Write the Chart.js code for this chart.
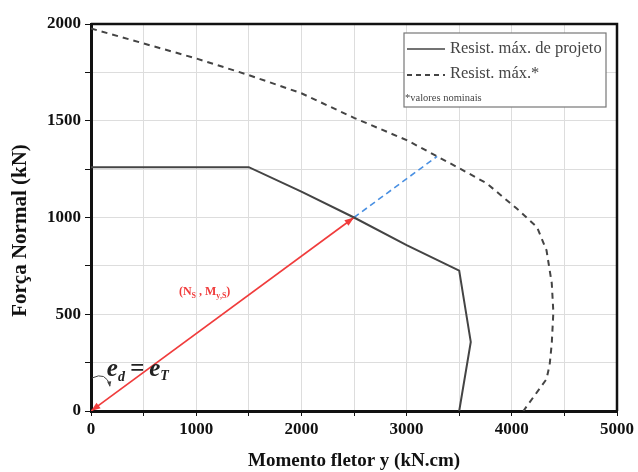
<!DOCTYPE html>
<html>
<head>
<meta charset="utf-8">
<script src="https://cdn.jsdelivr.net/npm/chart.js@4/dist/chart.umd.min.js"></script>
<style>
  html, body { margin: 0; padding: 0; background: #fff; }
  canvas { display: block; }
</style>
</head>
<body>
<canvas id="grafico" width="638" height="472"></canvas>
<script>
// curva de projeto (linha cheia)
const momentoProjeto = [0, 1500, 2000, 2500, 3000, 3500, 3610, 3500];
const normalProjeto = [1260, 1260, 1134, 1000, 857, 725, 357, 0];

// curva de resistência máxima nominal (tracejada)
const momentoMax = [0, 1000, 1500, 2000, 2500, 3000, 3290, 3500, 3760, 4050, 4240, 4330, 4380, 4395, 4380, 4360, 4330, 4110];
const normalMax = [1977, 1822, 1736, 1642, 1515, 1400, 1316, 1255, 1177, 1045, 950, 830, 660, 510, 350, 240, 165, 0];

// vetor solicitante e prolongamento
const vetorM = [0, 2500];
const vetorN = [0, 1000];
const prolongM = [2500, 3290];
const prolongN = [1000, 1316];

const legendas = ["Resist. máx. de projeto", "Resist. máx.*", "*valores nominais"];
const tituloY = "Força Normal (kN)";
const SERIF = "'Liberation Serif', 'DejaVu Serif', serif";

const pontos = (xs, ys) => xs.map((x, i) => ({ x, y: ys[i] }));

function seta(ctx, x0, y0, x1, y1, tam) {
    const a = Math.atan2(y1 - y0, x1 - x0);
    ctx.beginPath();
    ctx.moveTo(x1, y1);
    ctx.lineTo(x1 - tam * Math.cos(a - 0.35), y1 - tam * Math.sin(a - 0.35));
    ctx.lineTo(x1 - tam * Math.cos(a + 0.35), y1 - tam * Math.sin(a + 0.35));
    ctx.closePath();
    ctx.fill();
}

// desenha texto com subscritos: partes = [[texto, sub?, deslocamento], ...]
function textoComposto(ctx, partes, x, y, fonte, fonteSub) {
    let largura = 0;
    for (const [t, sub] of partes) {
        ctx.font = sub ? fonteSub : fonte;
        largura += ctx.measureText(t).width;
    }
    let cx = x - largura / 2;
    ctx.textBaseline = "alphabetic";
    ctx.textAlign = "left";
    for (const [t, sub, dy] of partes) {
        ctx.font = sub ? fonteSub : fonte;
        ctx.fillText(t, cx, y + (sub ? dy : 0));
        cx += ctx.measureText(t).width;
    }
}

const anotacoes = {
    id: "anotacoes",
    afterDatasetsDraw(chart) {
        const { ctx, chartArea: area, scales: { x, y } } = chart;
        ctx.save();

        // pontas do vetor vermelho
        ctx.fillStyle = "#f03c3c";
        const ox = x.getPixelForValue(vetorM[0]), oy = y.getPixelForValue(vetorN[0]);
        const px = x.getPixelForValue(vetorM[1]), py = y.getPixelForValue(vetorN[1]);
        seta(ctx, ox, oy, px, py, 10);
        seta(ctx, px, py, ox, oy, 10);

        // rótulo (N_S , M_y,S)
        textoComposto(ctx, [["(N", false], ["S", true, 3], [" , M", false], ["y,S", true, 3], [")", false]],
            x.getPixelForValue(1080), y.getPixelForValue(600),
            "bold 12px " + SERIF, "bold 8px " + SERIF);

        // e_d = e_T
        ctx.fillStyle = "#222";
        textoComposto(ctx, [["e", false], ["d", true, 5], ["\u2009=\u2009", false], ["e", false], ["T", true, 4]],
            x.getPixelForValue(445), y.getPixelForValue(182),
            "bold italic 25px " + SERIF, "bold italic 14px " + SERIF);

        // arco do ângulo
        ctx.strokeStyle = "#444";
        ctx.fillStyle = "#444";
        ctx.lineWidth = 1;
        ctx.beginPath();
        ctx.moveTo(ox + 1, oy - 33);
        ctx.quadraticCurveTo(ox + 15, oy - 40, ox + 19, oy - 25);
        ctx.stroke();
        seta(ctx, ox + 18, oy - 31, ox + 19, oy - 24, 6);

        // moldura superior e direita
        ctx.strokeStyle = "#111";
        ctx.lineWidth = 2.5;
        ctx.beginPath();
        ctx.moveTo(area.left, area.top);
        ctx.lineTo(area.right, area.top);
        ctx.lineTo(area.right, area.bottom);
        ctx.stroke();

        // legenda
        const lx = area.right - 213, ly = area.top + 9, lw = 202, lh = 74;
        ctx.fillStyle = "#fff";
        ctx.fillRect(lx, ly, lw, lh);
        ctx.strokeStyle = "#777";
        ctx.lineWidth = 1.2;
        ctx.strokeRect(lx, ly, lw, lh);

        ctx.strokeStyle = "#444";
        ctx.lineWidth = 1.6;
        ctx.beginPath();
        ctx.moveTo(lx + 3, ly + 16);
        ctx.lineTo(lx + 41, ly + 16);
        ctx.stroke();
        ctx.setLineDash([5, 4]);
        ctx.lineWidth = 2;
        ctx.beginPath();
        ctx.moveTo(lx + 3, ly + 42);
        ctx.lineTo(lx + 41, ly + 42);
        ctx.stroke();
        ctx.setLineDash([]);

        ctx.fillStyle = "#444";
        ctx.textAlign = "left";
        ctx.textBaseline = "middle";
        ctx.font = "16.5px " + SERIF;
        ctx.fillText(legendas[0], lx + 46, ly + 16);
        ctx.fillText(legendas[1], lx + 46, ly + 41);
        ctx.font = "10.5px " + SERIF;
        ctx.fillText(legendas[2], lx + 1, ly + 65);

        // título do eixo y
        ctx.fillStyle = "#111";
        ctx.font = "bold 21px " + SERIF;
        ctx.textAlign = "center";
        ctx.translate(21, (area.top + area.bottom) / 2 + 13);
        ctx.rotate(-Math.PI / 2);
        ctx.fillText(tituloY, 0, 0);

        ctx.restore();
    },
};

const linhaBase = { showLine: true, pointRadius: 0, tension: 0, fill: false };

new Chart(document.getElementById("grafico"), {
    type: "scatter",
    data: {
        datasets: [
            {
                ...linhaBase,
                label: legendas[0],
                data: pontos(momentoProjeto, normalProjeto),
                borderColor: "#444",
                borderWidth: 2,
            },
            {
                ...linhaBase,
                label: legendas[1],
                data: pontos(momentoMax, normalMax),
                borderColor: "#444",
                borderWidth: 2,
                borderDash: [6, 5],
            },
            {
                ...linhaBase,
                label: "vetor",
                data: pontos(vetorM, vetorN),
                borderColor: "#f03c3c",
                borderWidth: 1.6,
            },
            {
                ...linhaBase,
                label: "prolongamento",
                data: pontos(prolongM, prolongN),
                borderColor: "#4a90e2",
                borderWidth: 1.6,
                borderDash: [6, 4],
            },
        ],
    },
    options: {
        responsive: false,
        animation: false,
        devicePixelRatio: 1,
        layout: { padding: { top: 24, right: 21, left: 0, bottom: 0 } },
        plugins: { legend: { display: false }, tooltip: { enabled: false } },
        scales: {
            x: {
                type: "linear",
                min: 0,
                max: 5000,
                afterFit: (s) => { s.height = 61; },
                ticks: {
                    stepSize: 500,
                    color: "#111",
                    padding: 3,
                    maxRotation: 0,
                    font: { family: SERIF, size: 17, weight: "bold" },
                    callback: (v) => (v % 1000 === 0 ? v : ""),
                },
                grid: { color: "#dddddd", tickColor: "#111", tickLength: 5, lineWidth: 1 },
                border: { color: "#111", width: 3 },
                title: {
                    display: true,
                    text: "Momento fletor y (kN.cm)",
                    color: "#111",
                    font: { family: SERIF, size: 19, weight: "bold" },
                    padding: { top: 0, bottom: 0 },
                },
            },
            y: {
                type: "linear",
                min: 0,
                max: 2000,
                afterFit: (s) => { s.width = 91; },
                ticks: {
                    stepSize: 250,
                    color: "#111",
                    padding: 4,
                    font: { family: SERIF, size: 17, weight: "bold" },
                    callback: (v) => (v % 500 === 0 ? v : ""),
                },
                grid: { color: "#dddddd", tickColor: "#111", tickLength: 6, lineWidth: 1 },
                border: { color: "#111", width: 3 },
                title: { display: false },
            },
        },
    },
    plugins: [anotacoes],
});
</script>
</body>
</html>
